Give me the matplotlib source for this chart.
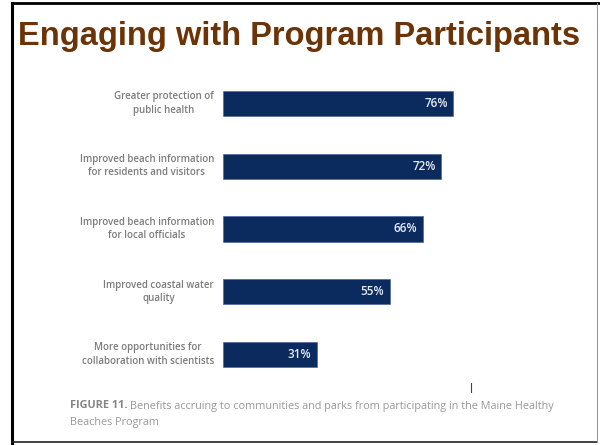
import matplotlib.pyplot as plt
from matplotlib.lines import Line2D

labels = ["Greater protection of\npublic health",
          "Improved beach information\nfor residents and visitors",
          "Improved beach information\nfor local officials",
          "Improved coastal water\nquality",
          "More opportunities for\ncollaboration with scientists"]
values = [76, 72, 66, 55, 31]

W, H = 600, 445
fig = plt.figure(figsize=(6, 4.45), dpi=100)
fig.patch.set_facecolor('white')

# frame around the slide
fig.add_artist(Line2D([11.5/W, 11.5/W], [0, 1 - 3/H], color='black', lw=2.2))
fig.add_artist(Line2D([11.5/W, 1], [1 - 3/H, 1 - 3/H], color='black', lw=2.0))
fig.add_artist(Line2D([11.5/W, 597/W], [1 - 442/H, 1 - 442/H], color='#222222', lw=1.2))
fig.add_artist(Line2D([597/W, 597/W], [1 - 442/H, 1 - 3/H], color='#999999', lw=0.8))

fig.text(18/W, 1 - 36/H, "Engaging with Program Participants", fontsize=23.5,
         fontweight='bold', color='#6b3306', family='Liberation Sans', va='center')

ax = fig.add_axes([223/W, 1 - 386/H, 303/W, (386 - 72)/H])
ypos = list(range(len(values)))
ax.barh(ypos, values, height=0.4, color='#0b2a5e', edgecolor='#4a6a9a', linewidth=0.5)
ax.set_xlim(0, 100)
ax.set_ylim(4.5, -0.5)
ax.axis('off')

for y, v, lab in zip(ypos, values, labels):
    ax.text(v - 1.8, y, f"{v}%", color='#e8ecf4', fontsize=8.5, fontweight='semibold',
            ha='right', va='center', family='Open Sans')
    ax.text(-3, y, lab, color='#7c7c7c', fontsize=7, fontweight='semibold', ha='right',
            va='center', multialignment='center', family='Open Sans', linespacing=1.3)

t1 = fig.text(70/W, 1 - 406/H, "FIGURE 11.", fontsize=7.8, fontweight='bold', color='#858585',
              family='Open Sans', va='center')
fig.canvas.draw()
x_end = t1.get_window_extent().x1
fig.text((x_end + 2)/W, 1 - 406/H,
         "Benefits accruing to communities and parks from participating in the Maine Healthy",
         fontsize=7.8, color='#999999', family='Open Sans', va='center')
fig.text(70/W, 1 - 422/H, "Beaches Program", fontsize=7.8, color='#999999',
         family='Open Sans', va='center')
fig.add_artist(Line2D([471/W, 471/W], [1 - 392/H, 1 - 383/H], color='#444444', lw=0.8))

fig.savefig('out.png', dpi=100)
